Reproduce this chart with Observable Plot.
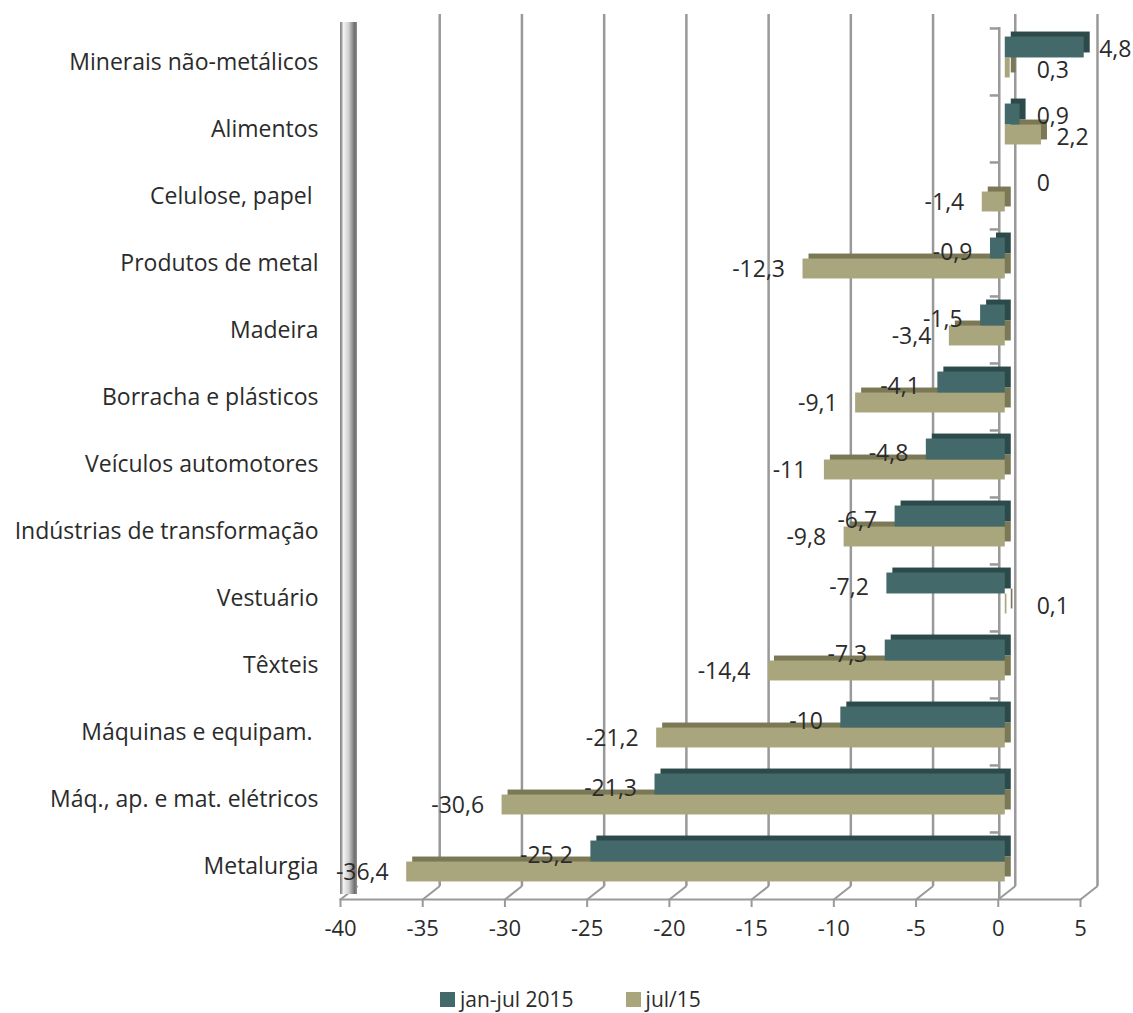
<!DOCTYPE html>
<html>
<head>
<meta charset="utf-8">
<script src="https://cdn.jsdelivr.net/npm/d3@7"></script>
<script src="https://cdn.jsdelivr.net/npm/@observablehq/plot@0.6"></script>
<style>
  html, body { margin: 0; padding: 0; background: #fff; }
  #chart svg { display: block; }
  .legend { display: flex; align-items: center; margin-left: 440px; margin-top: 20px;
            font-family: "Open Sans", sans-serif; font-size: 21px; color: #2b2b2b; }
  .legend .sw { width: 15px; height: 15px; display: inline-block; margin-right: 5px; }
  .legend .item { display: flex; align-items: center; margin-right: 52px; }
</style>
</head>
<body>
<div id="chart"></div>
<script>
const categories = [
  "Minerais não-metálicos",
  "Alimentos",
  "Celulose, papel ",
  "Produtos de metal",
  "Madeira",
  "Borracha e plásticos",
  "Veículos automotores",
  "Indústrias de transformação",
  "Vestuário",
  "Têxteis",
  "Máquinas e equipam. ",
  "Máq., ap. e mat. elétricos",
  "Metalurgia"
];
const seriesNames = ["jan-jul 2015", "jul/15"];
const janJul2015 = [4.8, 0.9, 0, -0.9, -1.5, -4.1, -4.8, -6.7, -7.2, -7.3, -10, -21.3, -25.2];
const jul15 = [0.3, 2.2, -1.4, -12.3, -3.4, -9.1, -11, -9.8, 0.1, -14.4, -21.2, -30.6, -36.4];
const xTicks = [-40, -35, -30, -25, -20, -15, -10, -5, 0, 5];
const seriesColors = ["#44696a", "#a9a57c"];
const seriesShade = ["#2d4a4a", "#7b7856"];

const dark = categories.map((c, i) => ({cat: c, series: seriesNames[0], v: janJul2015[i]}));
const tan = categories.map((c, i) => ({cat: c, series: seriesNames[1], v: jul15[i]}));
const fmt = d => String(d.v).replace(".", ",");
const labelX = d => d.v >= 0 ? Math.max(d.v, 1) : d.v;

const band = (895 - 23) / categories.length;
const half = band / 2;
const lineShape = {draw(context, l) { context.moveTo(0, 0); context.lineTo(0, -l); }};

const chart = Plot.plot({
  width: 1133,
  height: 965,
  marginLeft: 347,
  marginRight: 46,
  marginTop: 23,
  marginBottom: 70,
  style: {fontFamily: "'Open Sans', sans-serif", color: "#2b2b2b", background: "#fff"},
  x: {domain: [-40, 5]},
  y: {domain: categories, padding: 0},
  marks: [
    // back-wall gridlines
    Plot.ruleX(xTicks.slice(1), {dx: 10, dy: -9, stroke: "#999", strokeWidth: 2.5}),
    // floor diagonals from front ticks to back gridlines
    Plot.vector(xTicks, {x: d => d, frameAnchor: "bottom", dx: -7, dy: 4, length: 21, rotate: 52,
      anchor: "start", shape: lineShape, stroke: "#999", strokeWidth: 2}),
    // left wall
    Plot.ruleX([-40], {dx: 1, dy: -1, stroke: "#bbb", strokeWidth: 17, className: "wall"}),
    // front floor edge
    Plot.frame({anchor: "bottom", dx: -7, dy: 4, stroke: "#999", strokeWidth: 2}),
    Plot.axisX({ticks: xTicks, tickFormat: d => String(d), dx: -7, dy: 4, tickSize: 8, tickPadding: 13,
      fontSize: 22, stroke: "#999", strokeWidth: 2, label: null}),
    // category axis line at 0 with band ticks
    Plot.ruleX([0], {dx: -6, dy: 4, stroke: "#999", strokeWidth: 2.5}),
    Plot.ruleY(categories, {y: d => d, x1: -0.55, x2: 0, dx: -6, dy: -half + 4, stroke: "#999", strokeWidth: 2.5}),
    Plot.axisY({tickSize: 0, tickPadding: 29, fontSize: 23, dy: 5, label: null}),
    // jul/15 bars (3D shade then face)
    Plot.barX(tan, {x: "v", y: "cat", fill: seriesShade[1], insetTop: half, insetBottom: half - 20, dx: 6, dy: -5}),
    Plot.barX(tan, {x: "v", y: "cat", fill: seriesColors[1], insetTop: half, insetBottom: half - 20}),
    // jan-jul 2015 bars
    Plot.barX(dark, {x: "v", y: "cat", fill: seriesShade[0], insetTop: half - 21, insetBottom: half, dx: 6, dy: -5}),
    Plot.barX(dark, {x: "v", y: "cat", fill: seriesColors[0], insetTop: half - 21, insetBottom: half}),
    // value labels
    Plot.text(dark.filter(d => d.v >= 0), {x: labelX, y: "cat", text: fmt, textAnchor: "start", dx: 15, dy: -8, fontSize: 23, fill: "#2b2b2b"}),
    Plot.text(dark.filter(d => d.v < 0), {x: labelX, y: "cat", text: fmt, textAnchor: "end", dx: -18, dy: -6, fontSize: 23, fill: "#2b2b2b"}),
    Plot.text(tan.filter(d => d.v >= 0), {x: labelX, y: "cat", text: fmt, textAnchor: "start", dx: 15, dy: 13, fontSize: 23, fill: "#2b2b2b"}),
    Plot.text(tan.filter(d => d.v < 0), {x: labelX, y: "cat", text: fmt, textAnchor: "end", dx: -18, dy: 11, fontSize: 23, fill: "#2b2b2b"})
  ]
});

// gradient for the left wall
const ns = "http://www.w3.org/2000/svg";
const defs = document.createElementNS(ns, "defs");
defs.innerHTML = `<linearGradient id="wallGrad">
  <stop offset="0" stop-color="#8a8a8a"/>
  <stop offset="0.15" stop-color="#f4f4f4"/>
  <stop offset="0.45" stop-color="#d0d0d0"/>
  <stop offset="0.8" stop-color="#6f6f6f"/>
  <stop offset="1" stop-color="#9a9a9a"/>
</linearGradient>`;
chart.insertBefore(defs, chart.firstChild);
{
  const line = chart.querySelector(".wall line");
  if (line) {
    line.setAttribute("stroke", "url(#wallGrad)");
    const x = +line.getAttribute("x1");
    const g = defs.querySelector("#wallGrad");
    g.setAttribute("gradientUnits", "userSpaceOnUse");
    g.setAttribute("x1", x - 7.5);
    g.setAttribute("x2", x + 9.5);
    g.setAttribute("y1", 0);
    g.setAttribute("y2", 0);
  }
}
document.getElementById("chart").appendChild(chart);

// legend
const legend = document.createElement("div");
legend.className = "legend";
seriesNames.forEach((name, i) => {
  const item = document.createElement("span");
  item.className = "item";
  const sw = document.createElement("span");
  sw.className = "sw";
  sw.style.background = seriesColors[i];
  item.appendChild(sw);
  item.appendChild(document.createTextNode(name));
  legend.appendChild(item);
});
document.body.appendChild(legend);
</script>
</body>
</html>
